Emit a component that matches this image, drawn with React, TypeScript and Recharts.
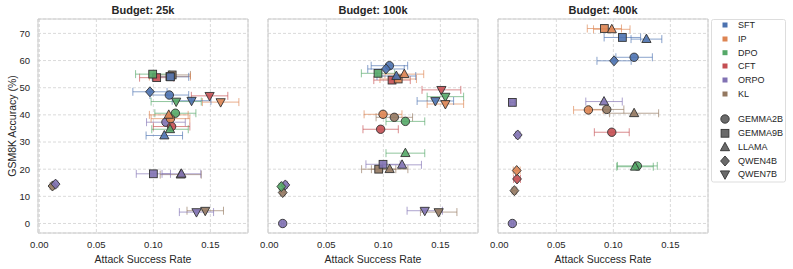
import React from "react";
import { ScatterChart, Scatter, XAxis, YAxis, CartesianGrid, ErrorBar, ReferenceArea } from "recharts";

// ---------- data ----------
const METHODS = ["SFT", "IP", "DPO", "CFT", "ORPO", "KL"];
const MODELS = ["GEMMA2B", "GEMMA9B", "LLAMA", "QWEN4B", "QWEN7B"];
const TITLES = ["Budget: 25k", "Budget: 100k", "Budget: 400k"];
const X_TICKS = [0, 0.05, 0.1, 0.15];
const Y_TICKS = [0, 10, 20, 30, 40, 50, 60, 70];

// rows: methods (SFT, IP, DPO, CFT, ORPO, KL); cols: models (GEMMA2B, GEMMA9B, LLAMA, QWEN4B, QWEN7B)
const ASR_25K: (number | null)[][] = [
  [0.114, 0.115, 0.1096, 0.097, 0.1335],
  [0.115, 0.1145, 0.1135, null, 0.159],
  [0.1193, 0.0994, 0.1146, null, 0.12],
  [0.116, 0.1029, null, null, 0.1493],
  [0.111, 0.1, 0.1246, 0.0142, 0.1378],
  [null, 0.1165, 0.124, 0.0115, 0.1455],
];
const ACC_25K: (number | null)[][] = [
  [47.3, 54.0, 32.4, 48.5, 45.2],
  [38.6, 54.1, 40.0, null, 44.7],
  [40.6, 55.0, 34.7, null, 44.9],
  [35.7, 53.7, null, null, 47.0],
  [37.3, 18.3, 18.3, 14.5, 4.2],
  [null, 54.7, 18.0, 13.8, 4.7],
];
const ERR_25K: (number | null)[][] = [
  [0.017, 0.016, 0.016, 0.015, 0.017],
  [0.017, 0.018, 0.017, null, 0.016],
  [0.018, 0.015, 0.016, null, 0.022],
  [0.016, 0.015, null, null, 0.016],
  [0.017, 0.015, 0.017, 0.002, 0.015],
  [null, 0.016, 0.018, 0.002, 0.016],
];

const ASR_100K: (number | null)[][] = [
  [0.1053, null, 0.1114, 0.1023, 0.1456],
  [0.0997, 0.113, 0.1184, null, 0.1544],
  [0.1193, 0.0953, 0.1193, 0.0105, 0.1544],
  [0.0976, 0.1076, null, null, 0.1509],
  [0.0117, 0.0997, 0.1164, 0.014, 0.1363],
  [0.1096, 0.0959, 0.1055, 0.0117, 0.1485],
];
const ACC_100K: (number | null)[][] = [
  [58.1, null, 54.3, 56.9, 45.1],
  [40.2, 53.2, 55.0, null, 44.0],
  [37.6, 55.3, 25.9, 13.6, 46.7],
  [34.7, 52.8, null, null, 49.2],
  [0.0, 21.8, 21.6, 14.2, 4.7],
  [39.1, 20.0, 20.0, 11.4, 4.2],
];
const ERR_100K: (number | null)[][] = [
  [0.016, null, 0.017, 0.016, 0.016],
  [0.0166, 0.016, 0.017, null, 0.016],
  [0.017, 0.0146, 0.017, 0.002, 0.016],
  [0.0155, 0.016, null, null, 0.017],
  [0.001, 0.015, 0.017, 0.002, 0.0155],
  [0.016, 0.015, 0.016, 0.002, 0.016],
];

const ASR_400K: (number | null)[][] = [
  [0.1182, 0.1079, 0.129, 0.1006, null],
  [0.0781, 0.0921, 0.0986, 0.0152, null],
  [0.121, null, 0.119, null, null],
  [0.0986, null, null, 0.0155, null],
  [0.0114, 0.0114, 0.0918, 0.0161, null],
  [0.0942, null, 0.1182, 0.0132, null],
];
const ACC_400K: (number | null)[][] = [
  [61.2, 68.5, 67.9, 59.9, null],
  [41.8, 71.8, 71.5, 19.5, null],
  [21.2, null, 20.9, null, null],
  [33.6, null, null, 16.4, null],
  [0.0, 44.6, 44.9, 32.6, null],
  [42.0, null, 40.6, 12.1, null],
];
const ERR_400K: (number | null)[][] = [
  [0.016, 0.016, 0.0135, 0.015, null],
  [0.013, 0.015, 0.016, 0.003, null],
  [0.0175, null, 0.016, null, null],
  [0.0153, null, null, 0.003, null],
  [0.001, 0.002, 0.016, 0.002, null],
  [0.015, null, 0.0215, 0.002, null],
];

// ---------- styling ----------
const COLORS: Record<string, string> = {
  SFT: "#4C72B0",
  IP: "#DD8452",
  DPO: "#55A868",
  CFT: "#C44E52",
  ORPO: "#8172B3",
  KL: "#937860",
};
const SHAPES: Record<string, string> = {
  GEMMA2B: "circle",
  GEMMA9B: "square",
  LLAMA: "up",
  QWEN4B: "diamond",
  QWEN7B: "down",
};
const TEXT = "#262626";
const FONT = "'Liberation Sans', Arial, sans-serif";
const EDGE = "#333333";

function drawMarker(shape: string, cx: number, cy: number, fill: string, key?: string, opacity = 0.9) {
  const common = { fill, fillOpacity: opacity, stroke: EDGE, strokeWidth: 0.9 };
  if (shape === "circle") return <circle key={key} cx={cx} cy={cy} r={4.2} {...common} />;
  if (shape === "square") return <rect key={key} x={cx - 3.9} y={cy - 3.9} width={7.8} height={7.8} {...common} />;
  if (shape === "up")
    return <polygon key={key} points={`${cx},${cy - 5} ${cx + 4.6},${cy + 3.4} ${cx - 4.6},${cy + 3.4}`} {...common} />;
  if (shape === "down")
    return <polygon key={key} points={`${cx},${cy + 5} ${cx + 4.6},${cy - 3.4} ${cx - 4.6},${cy - 3.4}`} {...common} />;
  return <polygon key={key} points={`${cx},${cy - 5} ${cx + 4.4},${cy} ${cx},${cy + 5} ${cx - 4.4},${cy}`} {...common} />;
}

const PANELS = [
  { asr: ASR_25K, acc: ACC_25K, err: ERR_25K },
  { asr: ASR_100K, acc: ACC_100K, err: ERR_100K },
  { asr: ASR_400K, acc: ACC_400K, err: ERR_400K },
];

const X_DOMAIN: [number, number] = [-0.0012, 0.183];
const Y_DOMAIN: [number, number] = [-3.5, 75.3];

const LAYOUT = [
  { left: 0, width: 260, mLeft: 0 },
  { left: 260, width: 230, mLeft: 8 },
  { left: 490, width: 230, mLeft: 8 },
];

const emptyShape = () => <g />;

function Panel({ p }: { p: number }) {
  const { asr, acc, err } = PANELS[p];
  const lay = LAYOUT[p];
  const drawOrder = [5, 4, 3, 2, 1, 0];
  const seriesData = drawOrder.map((i) =>
    MODELS.map((m, j) => ({
      model: m,
      x: asr[i][j],
      y: acc[i][j],
      xerr: err[i][j],
    })).filter((d) => d.x != null && d.y != null)
  );
  return (
    <div style={{ position: "absolute", left: lay.left, top: 0 }}>
      <ScatterChart
        width={lay.width}
        height={269}
        margin={{ top: 19, right: 12, bottom: 0, left: lay.mLeft }}
      >
        <CartesianGrid stroke="#d0d0d0" strokeDasharray="3 2" strokeWidth={0.8} />
        <XAxis
          type="number"
          dataKey="x"
          domain={X_DOMAIN}
          allowDataOverflow
          ticks={X_TICKS}
          tickFormatter={(v: number) => v.toFixed(2)}
          tickLine={false}
          axisLine={false}
          height={36}
          tickMargin={2}
          tick={{ fontSize: 9.5, fill: TEXT, fontFamily: FONT }}
          label={{
            value: "Attack Success Rate",
            position: "insideBottom",
            offset: 6,
            style: { fontSize: 10.5, fill: TEXT, fontFamily: FONT },
          }}
        />
        <YAxis
          type="number"
          dataKey="y"
          domain={Y_DOMAIN}
          allowDataOverflow
          ticks={Y_TICKS}
          tickLine={false}
          axisLine={false}
          width={38}
          hide={p > 0}
          tick={{ fontSize: 9.5, fill: TEXT, fontFamily: FONT }}
          label={{
            content: (props: any) => {
              const vb = props.viewBox || { x: 0, y: 19, width: 38, height: 214 };
              const cx = vb.x + 12;
              const cy = vb.y + vb.height / 2;
              return (
                <text
                  x={cx}
                  y={cy}
                  transform={`rotate(-90, ${cx}, ${cy})`}
                  textAnchor="middle"
                  dominantBaseline="central"
                  style={{ fontSize: 10.5, fill: TEXT, fontFamily: FONT }}
                >
                  GSM8K Accuracy (%)
                </text>
              );
            },
          }}
        />
        <ReferenceArea
          x1={X_DOMAIN[0]}
          x2={X_DOMAIN[1]}
          y1={Y_DOMAIN[0]}
          y2={Y_DOMAIN[1]}
          fill="none"
          stroke="#cccccc"
          strokeWidth={1}
          ifOverflow="visible"
          label={{
            value: TITLES[p],
            position: "top",
            offset: 5.5,
            style: { fontSize: 11, fontWeight: "bold", fill: TEXT, fontFamily: FONT },
          }}
        />
        {/* error bars first, so they sit behind all markers */}
        {drawOrder.map((i, k) => {
          const method = METHODS[i];
          const color = COLORS[method];
          return (
            <Scatter
              key={"err-" + method}
              name={method + " err"}
              data={seriesData[k]}
              fill={color}
              isAnimationActive={false}
              shape={emptyShape}
              legendType="none"
            >
              <ErrorBar
                dataKey="xerr"
                direction="x"
                width={4}
                stroke={color}
                strokeWidth={1}
                strokeOpacity={0.65}
              />
            </Scatter>
          );
        })}
        {drawOrder.map((i, k) => {
          const method = METHODS[i];
          const color = COLORS[method];
          return (
            <Scatter
              key={method}
              name={method}
              data={seriesData[k]}
              fill={color}
              isAnimationActive={false}
              shape={(props: any) =>
                drawMarker(SHAPES[props.payload?.model ?? props.model], props.cx, props.cy, color)
              }
            />
          );
        })}
      </ScatterChart>
    </div>
  );
}

function Legend() {
  const rowsMethods = [6, 20, 33.7, 47, 61, 75];
  const rowsModels = [100, 114.3, 128.3, 142, 155.3];
  return (
    <svg
      width={76}
      height={164}
      style={{ position: "absolute", left: 711, top: 18.5 }}
    >
      <rect x={0.5} y={0.5} width={74} height={162.5} rx={2} fill="#ffffff" stroke="#dddddd" strokeWidth={1} />
      {METHODS.map((m, i) => (
        <g key={m}>
          <rect x={11.5} y={rowsMethods[i] - 2.5} width={5} height={5} fill={COLORS[m]} />
          <text x={27} y={rowsMethods[i]} dominantBaseline="central" style={{ fontSize: 9, fill: TEXT, fontFamily: FONT }}>
            {m}
          </text>
        </g>
      ))}
      {MODELS.map((m, i) => (
        <g key={m}>
          {drawMarker(SHAPES[m], 14, rowsModels[i], "#6a6a6a", undefined, 1)}
          <text x={27} y={rowsModels[i]} dominantBaseline="central" style={{ fontSize: 9, fill: TEXT, fontFamily: FONT }}>
            {m}
          </text>
        </g>
      ))}
    </svg>
  );
}

export default function App() {
  return (
    <div style={{ position: "absolute", left: 0, top: 0, width: 793, height: 269, background: "#fff" }}>
      {[0, 1, 2].map((p) => (
        <Panel key={p} p={p} />
      ))}
      <Legend />
    </div>
  );
}
